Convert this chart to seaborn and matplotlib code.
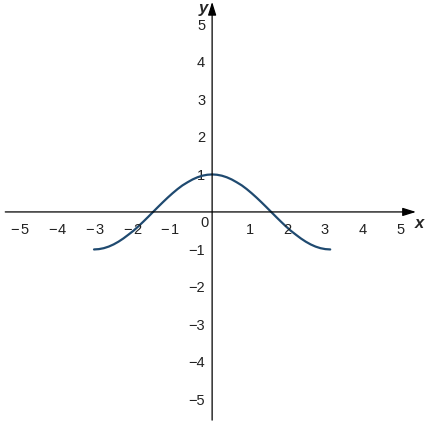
import numpy as np
import pandas as pd
import seaborn as sns
import matplotlib.pyplot as plt

# points (right half; the left half mirrors it)
x_half = [0.0, 0.13, 0.26, 0.39, 0.52, 0.65, 0.79, 0.92, 1.05, 1.18, 1.31, 1.44, 1.57,
          1.70, 1.83, 1.96, 2.09, 2.23, 2.36, 2.49, 2.62, 2.75, 2.88, 3.01, 3.14]
y_half = [1.0, 0.991, 0.966, 0.924, 0.866, 0.793, 0.707, 0.609, 0.5, 0.383, 0.259, 0.131, 0.0,
          -0.131, -0.259, -0.383, -0.5, -0.609, -0.707, -0.793, -0.866, -0.924, -0.966, -0.991, -1.0]
ticks = [-5, -4, -3, -2, -1, 1, 2, 3, 4, 5]
tick_labels = ["\u22125", "\u22124", "\u22123", "\u22122", "\u22121", "1", "2", "3", "4", "5"]

sns.set_style("white")
plt.rcParams['font.family'] = ['Liberation Sans', 'DejaVu Sans']

x_vals = [-v for v in x_half[:0:-1]] + x_half
y_vals = y_half[:0:-1] + y_half
df = pd.DataFrame({"x": x_vals, "y": y_vals})

fig = plt.figure(figsize=(4.25, 4.25), dpi=100)
ax = fig.add_axes([0, 0, 1, 1])
ax.set_xlim(-5.64, 5.66)
ax.set_ylim(-5.68, 5.65)

sns.lineplot(data=df, x="x", y="y", ax=ax, color="#1f4a70", linewidth=1.6, sort=False)

for s in ax.spines.values():
    s.set_visible(False)
ax.spines["left"].set_position(("data", 0))
ax.spines["bottom"].set_position(("data", 0))

ax.set_xticks(ticks)
ax.set_xticklabels([])
ax.set_yticks(ticks)
ax.set_yticklabels(tick_labels)
ax.tick_params(axis="both", direction="inout", length=8, width=0.8, colors="black",
               labelsize=10.5, labelcolor="#222222")
ax.tick_params(axis="y", pad=1)
ax.set_xlabel("")
ax.set_ylabel("")

# x tick labels: digit centred on the tick, minus sign to its left
for t, lab in zip(ticks, tick_labels):
    ax.text(t, -0.3, lab.lstrip("\u2212"), ha="center", va="top", fontsize=10.5, color="#222222")
    if lab.startswith("\u2212"):
        ax.text(t - 0.14, -0.3, "\u2212", ha="right", va="top", fontsize=10.5, color="#222222")

arrow = dict(arrowstyle="-|>,head_length=0.8,head_width=0.25", color="black", lw=0.9,
             shrinkA=0, shrinkB=0)
ax.annotate("", xy=(5.42, 0), xytext=(-5.5, 0), arrowprops=arrow)
ax.annotate("", xy=(0, 5.6), xytext=(0, -5.55), arrowprops=arrow)

ax.text(-0.08, -0.12, "0", ha="right", va="top", fontsize=10.5, color="#222222")
ax.text(5.4, -0.12, "x", ha="left", va="top", fontsize=12, style="italic", fontweight="bold")
ax.text(-0.12, 5.62, "y", ha="right", va="top", fontsize=12, style="italic", fontweight="bold")

fig.savefig("out.png", dpi=100)
